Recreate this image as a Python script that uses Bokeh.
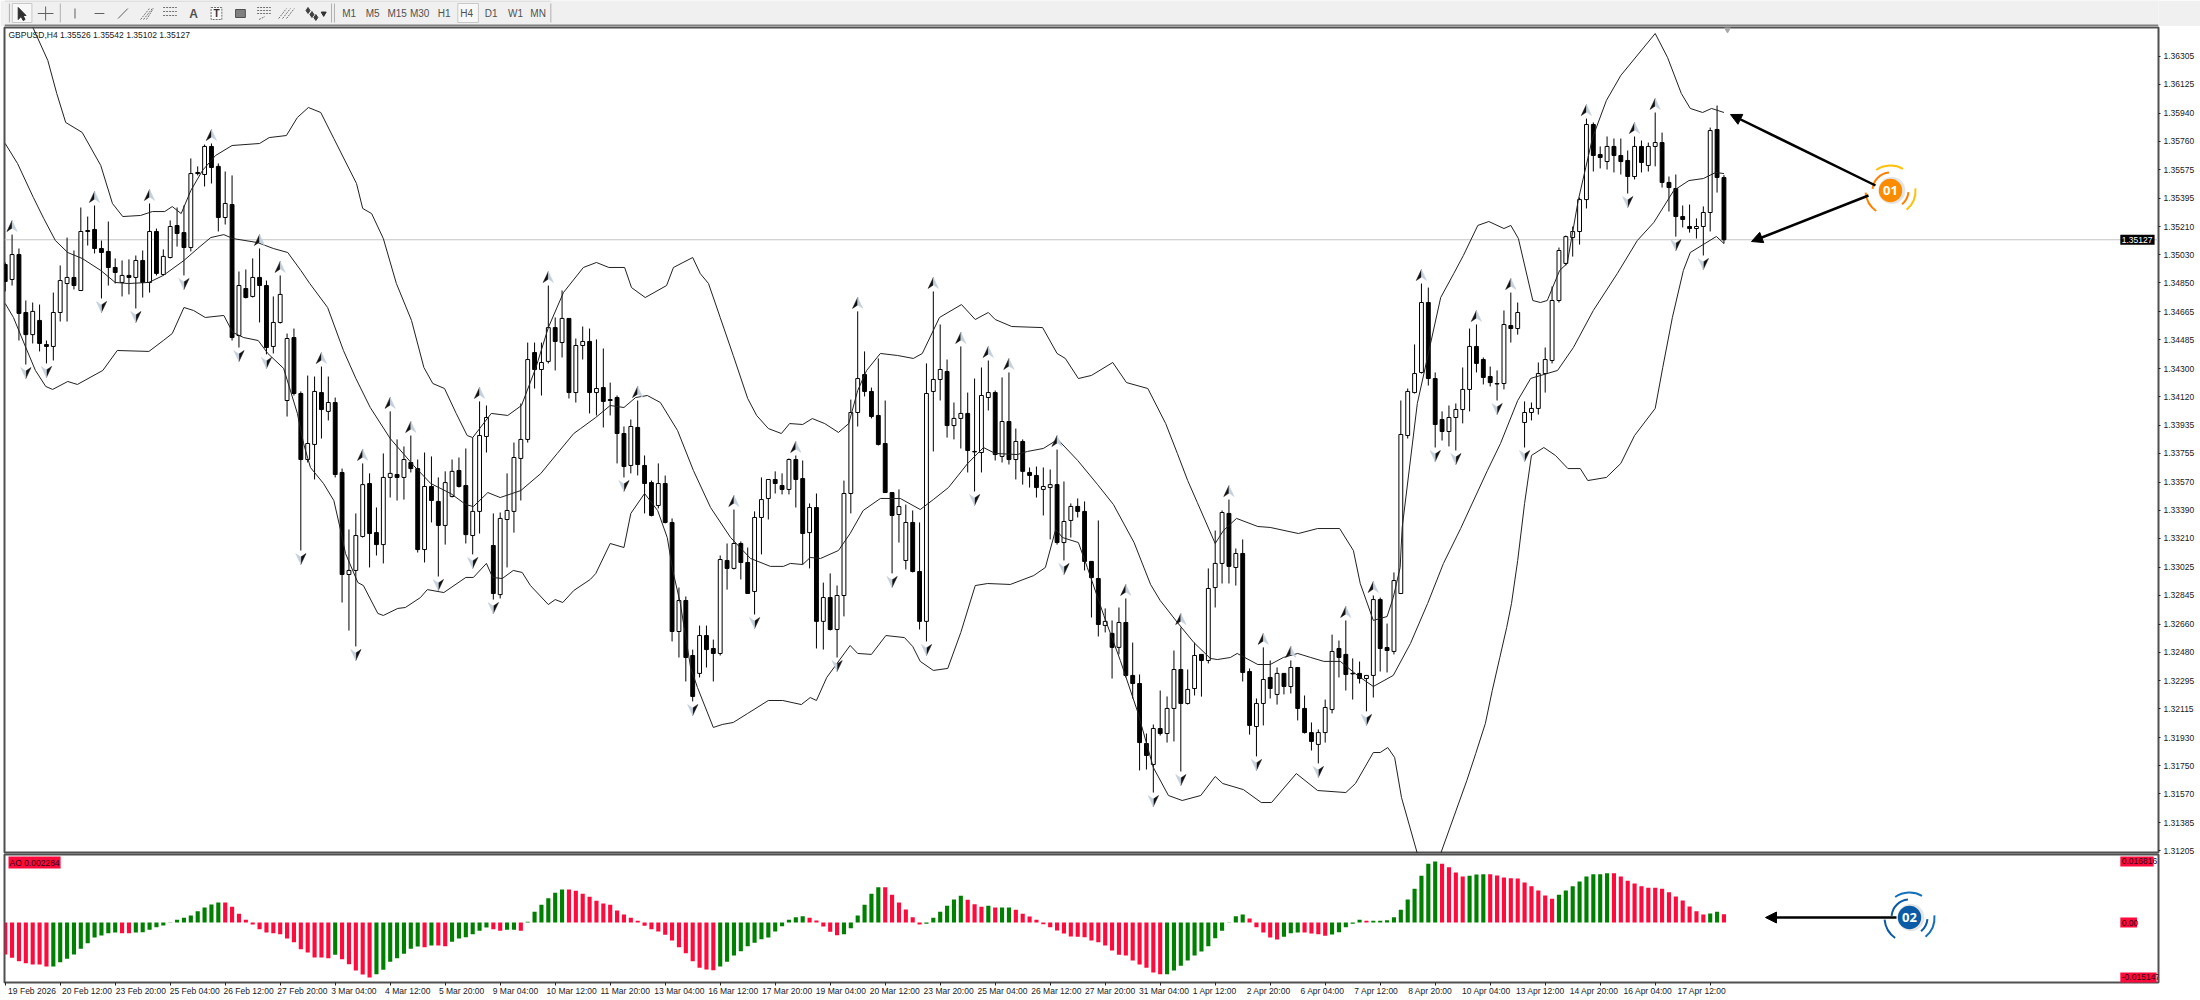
from bokeh.plotting import figure
from bokeh.layouts import column
from bokeh.models import Label, Span, Arrow, NormalHead, FixedTicker, ColumnDataSource, LinearAxis, Range1d
from bokeh.core.properties import value
from bokeh.embed import file_html
from bokeh.resources import INLINE

# ---- GBPUSD H4 candles, in points (1e-5) --------------------------------
opens = [134968,134872,135032,134660,134518,134609,134454,134442,134660,134846,
134885,134801,135186,135193,135071,135052,134949,134853,134898,134885,
134994,134853,135180,134904,135013,135218,135173,135077,135559,135546,
135726,135598,135270,135353,134512,134814,134763,134885,134833,134442,
134596,134095,134499,134140,133716,133813,134146,134025,134082,133633,
132978,133004,133222,133562,133247,133170,133601,133620,133601,133697,
133658,133138,133543,133447,133293,133479,133646,133549,133228,133383,
133864,133164,132849,133331,133383,133723,133845,134403,134294,134346,
134563,134467,134622,134146,134448,134474,134146,134178,134101,134114,
133883,133678,133922,133678,133568,133421,133562,133312,132612,132811,
132458,132343,132586,132503,132471,133068,133017,133177,133055,132869,
133344,133466,133588,133549,133524,133716,133594,133247,133408,132677,
132830,132625,132843,133498,134018,134262,134153,133999,133819,133504,
133363,133068,133312,132997,132677,134153,134230,134281,133934,133980,
134012,133768,133761,134114,134146,133736,133960,133716,133832,133633,
133614,133524,133536,133555,133183,133325,133415,133383,133062,132952,
132651,132600,132510,132670,132330,132278,131893,131758,131989,131957,
132118,132368,132150,132246,132465,132426,132894,133049,133370,133023,
133113,132355,132002,132150,132317,132208,132343,132259,132381,132118,
131963,131887,131963,132111,132503,132465,132343,132343,132310,132330,
132817,132509,132484,132856,133870,134146,134275,134724,134236,133973,
133896,133986,134037,134166,134442,134358,134249,134204,134204,134576,
134557,133954,134018,134044,134268,134352,134737,134975,135141,135180,
135385,135867,135674,135629,135726,135668,135636,135533,135726,135604,
135726,135751,135495,135456,135276,135212,135199,135212,135302,135835,135526]
highs = [134981,135160,135071,134737,134724,134711,134480,134788,134962,135141,
135058,135334,135276,135347,135122,135244,135007,134994,135001,135026,
135058,135360,135199,135065,135251,135334,135347,135649,135598,135738,
135745,135617,135565,135540,134923,134936,135007,135071,134865,134763,
134898,134525,134557,134153,134255,134249,134313,134249,134114,133658,
133267,133370,133691,133627,133408,133755,134025,133845,133800,133870,
133716,133761,133736,133601,133640,133716,133729,133787,133857,134089,
134063,133370,133376,133627,133825,134076,134467,134467,134467,134833,
134628,134801,134622,134493,134570,134557,134487,134429,134210,134127,
133928,133973,134095,133742,133581,133691,133613,133338,132894,132837,
132496,132650,132650,132560,133100,133177,133395,133190,133151,133383,
133601,133588,133640,133627,133723,133742,133710,133434,133498,132926,
132985,132907,133581,134101,134667,134410,134178,134365,134095,133504,
133524,133427,133389,133312,134333,134795,134583,134358,134082,134442,
134146,134236,134307,134352,134159,134243,134275,133915,133845,133665,
133671,133665,133652,133780,133575,133434,133466,133447,133062,133325,
132760,132683,132766,132824,132541,132336,131957,132015,132233,132195,
132490,132637,132368,132541,132465,133017,133260,133389,133459,133145,
133203,132375,132182,132510,132426,132381,132343,132426,132381,132201,
132028,131983,132175,132592,132554,132683,132439,132419,132330,132843,
132830,132663,132991,134095,134172,134455,134846,134820,134275,134025,
134063,134076,134307,134557,134583,134371,134313,134288,134673,134788,
134724,134089,134082,134339,134435,134827,135077,135154,135212,135398,
135905,135880,135726,135790,135777,135777,135700,135790,135764,135751,
135944,135815,135533,135546,135347,135353,135264,135341,135847,135989,135542]
lows = [134795,134833,134480,134326,134461,134410,134333,134352,134602,134602,
134808,134801,135090,135039,134750,134833,134846,134763,134776,134686,
134756,134788,134898,134898,135007,135083,134898,135052,135540,135469,
135488,135180,135225,134480,134435,134750,134756,134596,134391,134397,
134589,133992,134127,133132,133697,133588,133851,133967,133601,132798,
132618,132516,133215,133023,133100,133049,133472,133453,133459,133633,
133119,133055,133312,132965,133170,133472,133536,133177,133107,133241,
133761,132817,132824,133023,133247,133453,133825,134172,134127,134333,
134288,134371,134108,134082,134358,134012,133999,133922,133999,133691,
133601,133627,133614,133370,133351,133402,133306,132548,132445,132291,
132163,132317,132381,132291,132458,132881,133010,132946,132856,132721,
133107,133331,133498,133492,133492,133408,133042,133017,132503,132496,
132618,132445,132709,133370,133928,134121,133980,133806,133504,132985,
133183,133010,132991,132625,132548,133768,134095,133857,133845,133787,
133633,133511,133633,134031,133710,133697,133684,133588,133555,133536,
133472,133357,133203,133170,133068,133215,133344,133004,132702,132580,
132606,132310,132465,132317,132182,131720,131726,131578,131944,131899,
131906,131713,132143,132201,132194,132407,132766,132920,132920,132907,
132291,131950,131810,132009,132182,132143,132208,132214,132041,131957,
131848,131765,131899,132086,132317,132233,132175,132278,132099,132188,
132355,132349,132465,132856,133851,134140,134268,134191,133793,133838,
133800,133774,133948,134025,134275,134198,134185,134095,134166,134467,
134518,133793,133967,134005,134146,134333,134724,134962,135019,135096,
135328,135565,135585,135578,135559,135546,135424,135514,135559,135565,
135598,135462,135308,135147,135206,135173,135135,135026,135180,135430,135102]
closes = [134859,135032,134654,134518,134667,134461,134442,134660,134865,134885,
134833,135180,135180,135071,135045,134949,134917,134898,134885,134994,
134853,135180,134911,135020,135212,135167,135077,135552,135552,135726,
135591,135270,135360,134499,134833,134756,134885,134833,134435,134596,
134776,134493,134140,133716,133819,134153,134037,134082,133620,132978,
133004,133228,133555,133241,133170,133601,133627,133601,133716,133658,
133138,133543,133453,133293,133568,133640,133543,133234,133383,133870,
133986,132856,133338,133389,133729,133845,134358,134294,134339,134563,
134474,134622,134146,134448,134474,134146,134172,134089,134095,133883,
133671,133928,133684,133562,133357,133562,133312,132612,132811,132445,
132195,132586,132496,132471,133074,133017,133177,133055,132856,133344,
133459,133588,133562,133524,133716,133588,133241,133408,132677,132830,
132625,132843,133498,134018,134236,134153,133992,133813,133504,133357,
133414,133312,132997,132677,134140,134230,134294,133934,133980,134012,
133774,133765,134127,134146,133748,133960,133716,133832,133640,133614,
133536,133543,133555,133183,133318,133415,133383,133062,132958,132657,
132677,132510,132670,132330,132278,131899,131816,131989,131957,132118,
132368,132150,132240,132458,132426,132888,133049,133376,133030,133113,
132349,132009,132150,132304,132246,132343,132259,132381,132118,131963,
131906,131963,132124,132484,132445,132336,132340,132310,132330,132817,
132503,132490,132939,133877,134153,134268,134724,134236,133941,133896,
133986,134037,134166,134442,134333,134243,134210,134201,134583,134557,
134660,134018,134044,134268,134358,134737,135058,135147,135180,135385,
135867,135668,135655,135726,135668,135629,135533,135726,135623,135726,
135751,135495,135462,135276,135257,135199,135212,135302,135828,135527,135127]

# ---- Bollinger bands: (bar position, price in points) --------------------
upper_x = [3.0,4.1,6.2,7.5,8.8,11.2,13.9,15.6,17.1,19.7,21.4,23.2,24.3,25.6,27.0,28.7,30.6,33.0,37.0,38.4,40.9,42.5,44.1,45.9,47.8,51.1,52.0,53.3,55.0,56.9,59.1,60.9,62.2,63.9,65.6,67.2,68.0,70.7,73.1,75.1,77.2,79.0,81.2,84.1,86.0,87.8,90.1,91.1,93.1,96.2,97.2,100.0,101.1,102.3,104.0,105.9,108.0,109.3,111.0,112.9,114.1,116.0,117.4,119.2,121.2,122.7,124.0,125.3,127.3,129.8,132.1,133.4,135.9,139.1,141.1,143.0,144.0,146.4,150.9,153.0,154.2,156.1,158.0,161.1,163.1,166.2,168.8,170.5,172.0,173.4,176.0,177.2,179.1,182.2,184.0,188.1,190.9,194.1,196.1,197.1,199.0,201.0,201.9,202.9,203.2,205.4,208.8,210.7,212.1,214.2,215.8,218.0,219.0,220.1,222.2,223.3,224.3,226.1,227.2,228.8,229.9,230.9,232.9,235.0,240.0,241.8,243.8,245.1,246.9,248.2,250.0]
upper_y = [136599,136483,136278,136066,135880,135816,135604,135360,135276,135283,135308,135308,135340,135295,135443,135572,135668,135732,135745,135783,135796,135912,135976,135944,135777,135488,135328,135295,135135,134846,134609,134307,134204,134172,134012,133870,133857,134012,133999,134063,134307,134563,134788,134949,134981,134949,134949,134820,134756,134833,134949,135013,134910,134846,134628,134384,134108,133999,133915,133883,133947,133941,133979,133947,133890,133947,134159,134288,134397,134384,134365,134397,134628,134711,134615,134660,134615,134570,134563,134397,134365,134236,134256,134339,134210,134172,133947,133755,133581,133440,133177,133260,133338,133286,133280,133241,133273,133273,133132,132920,132683,132708,132830,133023,133280,134076,134756,134910,135026,135219,135244,135199,135219,135135,134737,134724,134737,134930,134975,135379,135591,135783,136021,136182,136451,136297,136066,135970,135944,135970,135944]
middle_x = [0.0,1.8,4.1,5.6,7.3,9.1,11.2,13.9,16.0,17.9,20.9,23.0,26.0,28.0,29.9,31.8,33.1,36.7,39.0,41.1,43.0,44.3,46.9,49.2,51.0,53.1,56.0,59.4,61.9,64.8,67.0,68.1,70.2,72.0,75.0,77.9,80.3,82.7,83.7,85.9,88.0,90.0,91.7,93.4,95.3,97.8,100.1,102.6,105.5,108.4,111.3,113.2,114.2,116.0,117.1,118.6,121.2,122.9,124.8,127.3,130.2,133.1,135.0,137.2,140.0,142.3,144.0,147.2,148.7,151.0,153.1,156.0,158.9,161.2,164.2,166.6,168.0,170.5,172.9,175.3,176.3,178.2,179.2,182.2,184.0,185.9,188.0,189.9,191.8,194.2,196.7,199.0,201.9,204.4,206.9,209.2,211.7,215.6,217.5,220.0,221.9,225.8,228.1,231.0,234.5,237.4,239.8,242.7,244.9,247.0,248.8,250.0]
middle_y = [135745,135616,135398,135264,135122,135045,135007,134930,134853,134846,134853,134898,134994,135071,135141,135160,135135,135109,135071,135045,134930,134846,134692,134416,134237,134050,133851,133678,133562,133498,133427,133414,133504,133472,133517,133626,133755,133883,133915,133986,134063,134050,134114,134127,134082,133902,133646,133408,133216,133081,133030,133030,133049,133042,133087,133081,133132,133241,133389,133466,133466,133395,133459,133536,133691,133793,133755,133748,133768,133787,133845,133710,133555,133427,133183,132914,132811,132670,132541,132439,132432,132445,132471,132400,132400,132445,132471,132445,132420,132420,132330,132259,132330,132535,132792,133049,133273,133646,133819,134095,134237,134288,134435,134673,134911,135122,135238,135443,135507,135520,135559,135552]
lower_x = [0.0,1.2,3.0,4.4,5.9,6.9,9.1,10.5,14.2,16.3,20.9,23.0,24.3,26.0,27.4,29.1,31.8,33.1,34.7,36.8,38.2,40.5,42.5,43.4,44.4,46.3,47.8,48.8,49.5,51.3,52.1,54.2,55.0,57.1,58.2,60.4,61.4,63.8,67.0,68.1,70.0,70.9,72.3,73.9,75.2,76.4,79.0,80.0,81.1,82.7,85.1,85.9,88.0,90.0,91.0,93.0,94.9,96.3,97.1,98.2,99.7,100.7,103.0,104.3,105.9,108.0,111.0,113.1,115.8,117.1,118.0,119.5,122.9,124.0,126.0,128.1,130.8,132.0,133.1,135.0,137.1,139.0,141.1,142.9,146.2,149.6,151.3,152.8,153.8,156.1,157.4,159.8,162.2,164.7,167.0,169.2,171.2,173.9,176.0,177.1,180.1,182.7,184.2,187.8,190.9,195.0,196.4,199.0,200.0,201.1,202.1,203.1,205.4,207.0,208.8,212.6,213.9,215.3,216.3,217.4,218.4,219.1,220.0,221.0,222.0,223.8,225.5,227.3,229.1,230.2,232.9,235.0,237.0,240.0,241.1,242.5,244.1,245.1,248.9,250.0]
lower_y = [134718,134628,134435,134288,134185,134166,134217,134198,134288,134416,134410,134480,134525,134692,134673,134628,134641,134532,134499,134480,134397,134301,134012,133819,133665,133562,133453,133260,133113,132926,132907,132728,132715,132760,132766,132830,132881,132862,132959,132959,133049,132959,132952,133004,132991,132907,132785,132817,132798,132875,132946,132984,133177,133151,133370,133498,133389,133215,133004,132792,132381,132252,131996,132015,132028,132086,132169,132169,132143,132188,132169,132317,132522,132471,132465,132586,132573,132516,132420,132362,132375,132606,132907,132920,132914,132971,133023,133267,133215,133183,133023,132715,132426,132099,131739,131559,131527,131559,131681,131636,131597,131514,131514,131700,131591,131578,131636,131835,131835,131867,131803,131546,131187,131045,131187,131655,131829,132022,132233,132445,132638,132792,133068,133434,133742,133793,133742,133658,133658,133581,133601,133691,133870,134044,134307,134628,134930,135045,135148,135103]

fractal_up = [1,13,21,30,37,40,46,52,56,59,69,79,92,106,115,124,135,139,143,146,153,163,171,178,183,187,195,199,206,214,219,230,237,240]
fractal_down = [3,6,14,19,26,34,38,43,51,63,68,71,90,100,109,121,129,134,141,154,167,171,182,191,198,208,211,217,221,236,243,247]

# ---- Awesome Oscillator, in 1e-6 ------------------------------------------
ao = [-8822,-9741,-10660,-11212,-11579,-11579,-12131,-12131,-10936,-10017,
-8822,-7260,-5698,-4136,-3584,-2941,-2757,-2941,-2941,-2757,
-2665,-2022,-1287,-827,-92,735,1287,1930,3125,4136,
4963,5514,5514,4319,2389,735,-551,-1838,-2757,-2941,
-3217,-4411,-5422,-7352,-8271,-9650,-9650,-9833,-8914,-10109,
-11488,-13234,-14336,-15147,-14245,-13050,-10844,-9833,-8639,-7260,
-6617,-6801,-6341,-6341,-6525,-5330,-4411,-4044,-3217,-2298,
-1379,-1838,-2298,-2022,-2022,-2298,184,2941,4871,6709,
8179,9098,9098,8731,7903,7076,5974,5238,4871,3308,
2206,1287,460,-919,-1838,-2481,-3400,-4963,-6801,-8455,
-10660,-12498,-12958,-13142,-12131,-10844,-9098,-7903,-6525,-5606,
-4595,-4136,-2481,-1011,735,1470,1746,1287,551,-1103,
-2573,-3492,-3217,-1562,1930,4871,7903,9741,9741,7628,
5514,3584,1470,-551,-368,1287,2941,4595,6341,7352,
6249,5055,4319,4595,4136,4136,4136,3492,2389,1654,
735,-460,-1287,-2206,-3033,-3860,-3952,-4044,-4963,-5422,
-6341,-7720,-8914,-9098,-10477,-11579,-12498,-13785,-14245,-14245,
-13234,-11947,-10477,-9098,-7995,-6525,-4319,-2298,-92,1746,
2206,1103,-1287,-2757,-4136,-4687,-3952,-2941,-2757,-2757,
-3033,-3217,-3676,-3308,-2665,-1287,-368,735,460,460,
460,643,1470,3492,6341,9282,12866,16174,16816,16174,
15255,13785,12682,12866,13234,13326,13326,12958,12407,12223,
12131,11028,10017,8822,7444,6525,7628,8822,10017,11304,
12682,13326,13326,13601,13601,12682,11488,10752,10017,9558,
9558,9282,8363,7168,6065,4411,3125,2206,2481,2941,2284]
ao_runs = [("R",7),("G",10),("R",2),("G",13),("R",16),("G",1),("R",5),("G",7),("R",1),("G",1),("R",2),("G",6),("R",2),("G",2),("R",1),("G",6),("R",22),("G",13),("R",5),("G",6),("R",6),("G",6),("R",3),("G",1),("R",1),("G",2),("R",22),("G",12),("R",5),("G",3),("R",4),("G",5),("R",1),("G",10),("R",4),("G",3),("R",10),("G",8),("R",14),("G",2),("R",1)]

price_ticks = [1.36305,1.36125,1.35940,1.35760,1.35575,1.35395,1.35210,1.35030,1.34850,1.34665,1.34485,1.34300,1.34120,1.33935,1.33755,1.33570,1.33390,1.33210,1.33025,1.32845,1.32660,1.32480,1.32295,1.32115,1.31930,1.31750,1.31570,1.31385,1.31205]
time_labels = ["19 Feb 2026","20 Feb 12:00","23 Feb 20:00","25 Feb 04:00","26 Feb 12:00","27 Feb 20:00","3 Mar 04:00","4 Mar 12:00","5 Mar 20:00","9 Mar 04:00","10 Mar 12:00","11 Mar 20:00","13 Mar 04:00","16 Mar 12:00","17 Mar 20:00","19 Mar 04:00","20 Mar 12:00","23 Mar 20:00","25 Mar 04:00","26 Mar 12:00","27 Mar 20:00","31 Mar 04:00","1 Apr 12:00","2 Apr 20:00","6 Apr 04:00","7 Apr 12:00","8 Apr 20:00","10 Apr 04:00","13 Apr 12:00","14 Apr 20:00","16 Apr 04:00","17 Apr 12:00"]
timeframes = ["M1","M5","M15","M30","H1","H4","D1","W1","MN"]
last_price = 1.35127
ao_levels = [("0.016816",0.016816),("0.00",0.0),("-0.015147",-0.015147)]

FONT = "Liberation Sans"
FS = "8.5px"
BAR = 6.875      # px per bar
X0 = 4.7         # px of bar 0
PPX = 6.42e-5    # price per px
bx = lambda px: (px - X0) / BAR
mp = lambda py: 1.36663 - PPX * py
ay = lambda py: (922 - py) / 3629.0
idx = list(range(len(opens)))

# ---- toolbar -------------------------------------------------------------
tb = figure(width=2200, height=26, x_range=(0, 2200), y_range=(26, 0), output_backend="svg",
            toolbar_location=None, min_border=0, outline_line_color=None,
            background_fill_color="#f0f0f0", border_fill_color="#f0f0f0")
tb.axis.visible = False
tb.grid.visible = False
tb.segment([0], [25], [2200], [25], color="#808080", line_width=2)
tb.segment([0], [0.5], [558], [0.5], color="#d0d0d0")
for sx in [5, 57, 334, 337, 558]:
    tb.segment([sx], [3], [sx], [22], color="#b0b0b0")
tb.quad(left=[8, 463], right=[28, 484], top=[3, 3], bottom=[22, 22], fill_color="#f8f8f8", line_color="#c8c8c8")
tb.patch([14, 14, 17, 19, 21, 19, 22], [7, 19, 16, 20, 19, 15, 15], color="#303030")
tb.segment([34, 42, 72, 92, 116], [13, 6, 8, 13, 18], [50, 42, 72, 102, 126], [13, 20, 18, 13, 8], color="#606060")
tb.segment([139, 142, 145, 162, 162, 162, 280, 284, 288], [19, 19, 19, 7, 11, 15, 18, 18, 18], [148, 151, 152, 176, 176, 176, 288, 292, 296], [8, 8, 8, 7, 11, 15, 8, 8, 8], color="#707070", line_dash="2 1")
tb.text([193], [13], text=["A"], text_font=value(FONT), text_font_size="12px", text_font_style="bold", text_color="#505050", text_align="center", text_baseline="middle")
tb.quad(left=[211], right=[222], top=[7], bottom=[19], fill_color="#f8f8f8", line_color="#707070", line_dash="2 1")
tb.text([216.5], [13], text=["T"], text_font=value(FONT), text_font_size="10px", text_font_style="bold", text_color="#303030", text_align="center", text_baseline="middle")
tb.quad(left=[236], right=[246], top=[9], bottom=[17], fill_color="#808080", line_color="#505050")
tb.segment([258, 258, 258, 260], [7, 10, 13, 19], [272, 272, 272, 266], [7, 10, 13, 16], color="#707070", line_dash="2 1")
tb.scatter([310, 314, 318], [10, 14, 17], marker="diamond", size=6, color="#404040")
tb.scatter([326], [13], marker="inverted_triangle", size=5, color="#303030")
tbx = [352, 376, 401, 424, 449, 472, 497, 522, 545]
tb.text(tbx, [13] * 9, text=timeframes, text_font=value(FONT), text_font_size="10px", text_color="#505050", text_align="center", text_baseline="middle")

# ---- main panel ------------------------------------------------------------
p = figure(width=2200, height=832, x_range=Range1d(bx(4), bx(2158)), y_range=Range1d(mp(852), mp(27)),
           y_axis_location="right", x_axis_location=None, output_backend="svg", toolbar_location=None,
           min_border_left=4, min_border_right=42, min_border_top=1, min_border_bottom=6,
           outline_line_color="#505050", outline_line_width=2, background_fill_color="white")
p.grid.visible = False
ax = p.yaxis[0]
ax.ticker = FixedTicker(ticks=price_ticks)
ax.formatter.use_scientific = False
ax.major_label_overrides = {t: f"{t:.5f}" for t in price_ticks}
ax.major_label_text_font = FONT
ax.major_label_text_font_size = FS
ax.major_label_text_color = "#202020"
ax.major_tick_in = 0
ax.major_tick_out = 2
ax.minor_tick_line_color = None
ax.major_label_standoff = 3
ax.axis_line_color = "#505050"
ax.major_tick_line_color = "#202020"

p.add_layout(Span(location=last_price, dimension="width", line_color="#c4c4c4", line_width=1, level="underlay"))
p.segment(idx, [v / 1e5 for v in highs], idx, [v / 1e5 for v in lows], color="black", line_width=1)
up = [i for i in idx if closes[i] >= opens[i]]
dn = [i for i in idx if closes[i] < opens[i]]
p.vbar(x=up, width=0.56, bottom=[opens[i] / 1e5 for i in up], top=[closes[i] / 1e5 for i in up], fill_color="white", line_color="black", line_width=1)
p.vbar(x=dn, width=0.56, bottom=[closes[i] / 1e5 for i in dn], top=[opens[i] / 1e5 for i in dn], fill_color="black", line_color="black", line_width=1)
for xs, ys in [(upper_x, upper_y), (middle_x, middle_y), (lower_x, lower_y)]:
    p.line(xs, [v / 1e5 for v in ys], color="#202020", line_width=1)

# fractal darts, sized in px through the scales
def dart(i, price, sign, side):
    dx = 5.2 / BAR
    dy = PPX
    cy = price + sign * 8.5 * dy
    tip = (i, cy + sign * 5.5 * dy)
    wing = (i + side * dx, cy - sign * 5.5 * dy)
    notch = (i, cy - sign * 2 * dy)
    return [tip[0], wing[0], notch[0]], [tip[1], wing[1], notch[1]]
for lst, src, sign in [(fractal_up, highs, 1), (fractal_down, lows, -1)]:
    for side, col in [(-1, "#101010"), (1, "#c4d0dc")]:
        xs, ys = [], []
        for i in lst:
            a, b = dart(i, src[i] / 1e5, sign, side * sign)
            xs.append(a); ys.append(b)
        p.patches(xs, ys, fill_color=col, line_color=col, line_width=0.5)

p.scatter([bx(1727)], [mp(29)], marker="inverted_triangle", size=6, color="#a8a8a8")
p.add_layout(Label(x=bx(8), y=mp(34), text="GBPUSD,H4  1.35526 1.35542 1.35102 1.35127", text_font=FONT, text_font_size=FS, text_color="#202020", text_baseline="middle"))

def badge(fig, cx, cy, col_main, col_a, col_b, text):
    fig.circle([cx + 0.2], [cy], radius=13.5, radius_units="screen", fill_color="#d8d8d8", line_color=None, fill_alpha=0.7)
    for r, a0, a1, c in [(25, 60, 125, col_a), (25, 185, 235, col_b), (25, -50, 5, col_a), (18, 95, 175, col_b), (18, -50, -5, col_b)]:
        fig.arc([cx], [cy], radius=r, radius_units="screen", start_angle=a0, end_angle=a1, start_angle_units="deg", end_angle_units="deg", line_color=c, line_width=2)
    fig.circle([cx], [cy], radius=11.7, radius_units="screen", fill_color=col_main, line_color=None)
    fig.text([cx], [cy], text=[text], text_font=value("Open Sans"), text_font_style="bold", text_font_size="13px", text_color="white", text_align="center", text_baseline="middle")

head = lambda: NormalHead(size=11, fill_color="black", line_color="black")
p.add_layout(Arrow(end=head(), x_start=bx(1875), y_start=mp(185), x_end=bx(1730), y_end=mp(114), line_width=2.5, line_color="black"))
p.add_layout(Arrow(end=head(), x_start=bx(1868), y_start=mp(195), x_end=bx(1751), y_end=mp(241), line_width=2.5, line_color="black"))
badge(p, bx(1890), mp(190), "#fb8c00", "#ffc107", "#ff8000", "01")

# ---- AO panel --------------------------------------------------------------
s = figure(frame_width=2154, frame_height=128, x_range=p.x_range, y_range=Range1d(ay(982), ay(854)),
           y_axis_location="right", output_backend="svg", toolbar_location=None,
           min_border_left=4, min_border_right=42, min_border_top=1, min_border_bottom=18,
           outline_line_color="#505050", outline_line_width=2, border_fill_color=None,
           margin=(-5, 0, 0, 0))
s.grid.visible = False
s.yaxis[0].ticker = FixedTicker(ticks=[])
s.yaxis[0].axis_line_color = "#505050"
xa = s.xaxis[0]
tick_pos = list(range(0, 8 * len(time_labels), 8))
xa.ticker = FixedTicker(ticks=tick_pos)
xa.major_label_overrides = {t: "" for t in tick_pos}
xa.major_tick_in = 0
xa.major_tick_out = 3
xa.minor_tick_line_color = None
xa.axis_line_color = "#505050"
xa.major_tick_line_color = "#202020"

ao_dir = "".join(c * n for c, n in ao_runs)
s.vbar(x=idx, width=0.6, bottom=0, top=[v / 1e6 for v in ao], fill_color=["#008000" if c == "G" else "#ff0a3c" for c in ao_dir], line_color=None)
s.add_layout(Label(x=bx(8), y=ay(862), text="AO 0.002284", text_font=FONT, text_font_size=FS, text_color="#300010", text_baseline="middle", background_fill_color="#ff0a3c", padding=1))
s.add_layout(Arrow(end=head(), x_start=bx(1896), y_start=ay(917), x_end=bx(1765), y_end=ay(917), line_width=2.5, line_color="black"))
badge(s, bx(1909), ay(917), "#0b5aa5", "#1470b8", "#0b5aa5", "02")

# ---- transparent page-wide layer for the texts that sit outside the panels --
ov = figure(width=2200, height=1000, x_range=(0, 2200), y_range=(1000, 0), output_backend="svg",
            toolbar_location=None, min_border=0, outline_line_color=None,
            background_fill_color=None, border_fill_color=None,
            styles={"position": "absolute", "top": "0px", "left": "0px", "pointer-events": "none"})
ov.axis.visible = False
ov.grid.visible = False
box_y = [(1.36663 - last_price) / PPX] + [922 - lv * 3629.0 for _, lv in ao_levels]
box_text = [f"{last_price:.5f}"] + [t for t, _ in ao_levels]
box_right = [2196, 2195, 2178, 2198]
box_fill = ["black", "#ff0a3c", "#ff0a3c", "#ff0a3c"]
box_ink = ["white", "#300010", "#300010", "#300010"]
ov.quad(left=[2161] * 4, right=box_right, top=[y - 5 for y in box_y], bottom=[y + 5 for y in box_y], fill_color=box_fill, line_color=None)
ov.text([2162.5] * 4, box_y, text=box_text, text_color=box_ink, text_font=value(FONT), text_font_size=FS, text_baseline="middle")
ov.text([X0 + BAR * t - 1 for t in tick_pos], [990] * len(tick_pos), text=time_labels, text_color="#202020", text_font=value(FONT), text_font_size=FS, text_baseline="middle")

page = column(tb, p, s, ov, spacing=0)
open("out.html", "w").write(file_html(page, INLINE))
